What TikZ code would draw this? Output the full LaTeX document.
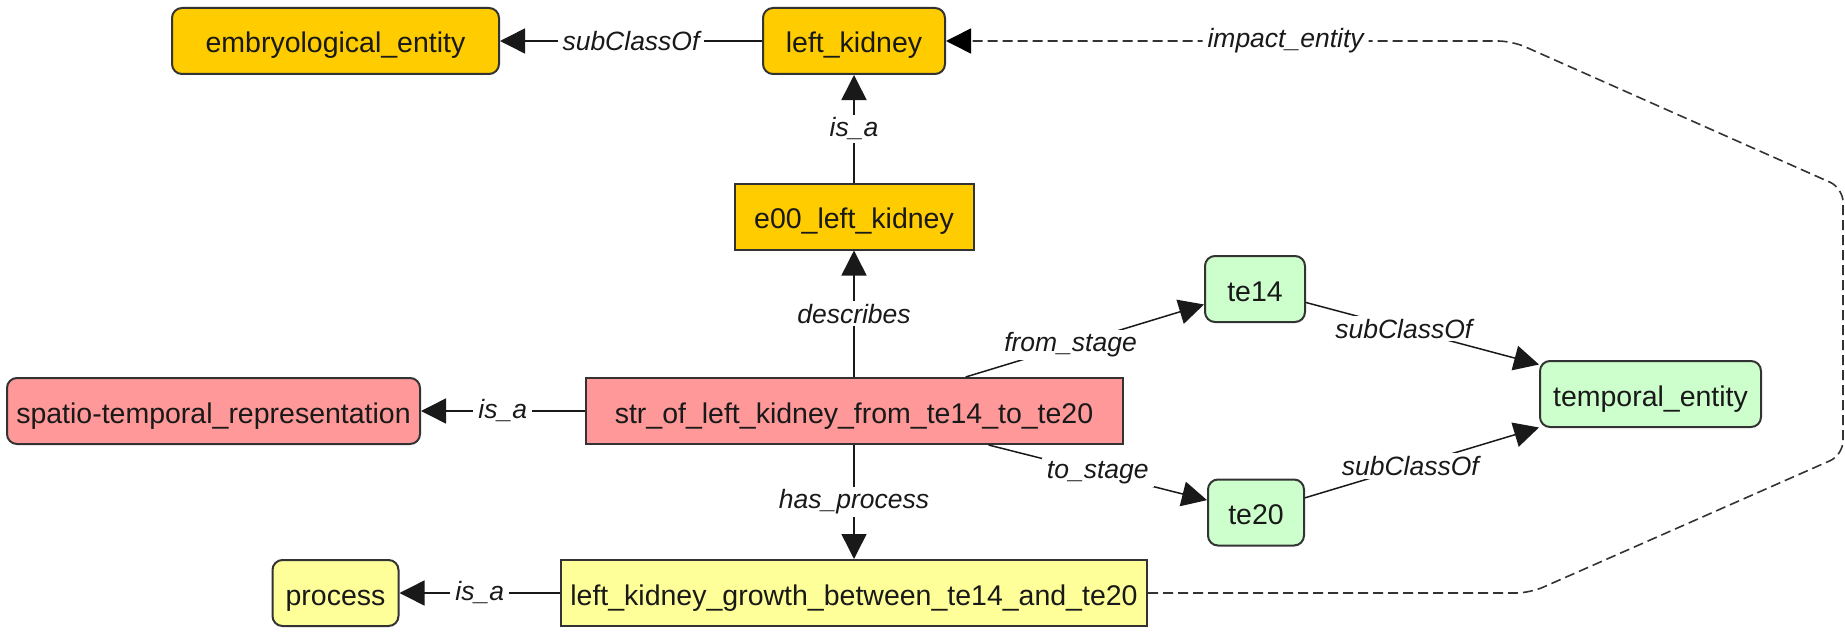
\documentclass[tikz,border=0pt]{standalone}
\usepackage{fontspec}
\setmainfont{Liberation Sans}
\usetikzlibrary{arrows.meta}

\definecolor{amber}{HTML}{FFCC00}
\definecolor{rose}{HTML}{FF9999}
\definecolor{cream}{HTML}{FFFF99}
\definecolor{mint}{HTML}{CCFFCC}
\definecolor{framegray}{HTML}{333333}
\definecolor{dashgray}{HTML}{333333}

\begin{document}
\begin{tikzpicture}[x=1pt,y=-1pt,
  box/.style={draw=framegray, line width=2pt, minimum height=66pt, inner sep=0pt,
              font=\fontsize{28.5}{34}\selectfont, text=black!90,
              text height=26pt, text depth=2pt},
  rbox/.style={box, rounded corners=10pt},
  rel/.style={line width=1.5pt, draw=black!90, -{Triangle[length=25pt,width=25pt]}},
  lab/.style={fill=white, font=\fontsize{26.5}{31}\selectfont\itshape, text=black!90,
              inner xsep=5pt, inner ysep=3pt}
]
\useasboundingbox (0,0) rectangle (1845,634);

% ontology classes and instances
\node[rbox, fill=amber, minimum width=327pt] (emb)  at (335.5,41)  {embryological\_entity};
\node[rbox, fill=amber, minimum width=182pt] (lk)   at (854,41)    {left\_kidney};
\node[box,  fill=amber, minimum width=239pt] (e00)  at (854,216.5) {e00\_left\_kidney};
\node[rbox, fill=mint,  minimum width=100pt] (te14) at (1255,289)  {te14};
\node[rbox, fill=mint,  minimum width=221pt] (temp) at (1650.5,394) {temporal\_entity};
\node[rbox, fill=rose,  minimum width=413pt] (spat) at (213.5,411) {spatio-temporal\_representation};
\node[box,  fill=rose,  minimum width=537pt] (str)  at (854,411)   {str\_of\_left\_kidney\_from\_te14\_to\_te20};
\node[rbox, fill=mint,  minimum width=96pt]  (te20) at (1256,512.5) {te20};
\node[rbox, fill=cream, minimum width=126pt] (proc) at (335.5,593) {process};
\node[box,  fill=cream, minimum width=586pt] (grow) at (854,593)   {left\_kidney\_growth\_between\_te14\_and\_te20};

% relations
\draw[rel] (lk)   -- node[lab] {subClassOf} (emb);
\draw[rel] (e00)  -- node[lab] {is\_a} (lk);
\draw[rel] (str)  -- node[lab] {describes} (e00);
\draw[rel] (str)  -- node[lab] {is\_a} (spat);
\draw[rel] (str)  -- node[lab] {has\_process} (grow);
\draw[rel] (grow) -- node[lab] {is\_a} (proc);
\draw[rel] (str)  -- node[lab, pos=0.44] {from\_stage} (te14);
\draw[rel] (str)  -- node[lab] {to\_stage} (te20);
\draw[rel] (te14) -- node[lab, pos=0.42] {subClassOf} (temp);
\draw[rel] (te20) -- node[lab, pos=0.45] {subClassOf} (temp);

% impact_entity detour around the right side
\coordinate (c1) at (1530,593);
\coordinate (c2) at (1843,455);
\coordinate (c3) at (1843,188);
\coordinate (c4) at (1512,41);
\draw[line width=1.6pt, draw=dashgray, dash pattern=on 10pt off 5pt, rounded corners=14pt,
      -{Triangle[length=25pt,width=25pt,color=black]}]
  (grow.east) -- (c1) -- (c2) -- (c3) -- (c4)
  -- node[lab, pos=0.4] {impact\_entity} (lk.east);
\end{tikzpicture}
\end{document}
